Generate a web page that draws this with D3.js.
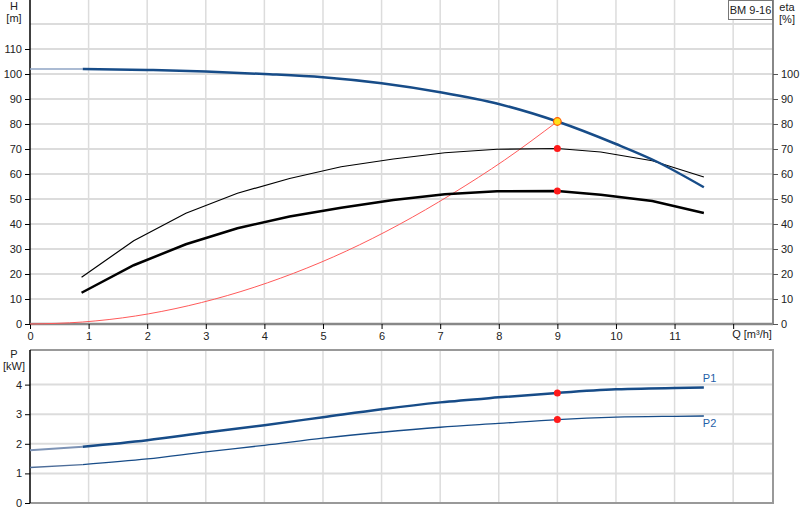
<!DOCTYPE html>
<html><head><meta charset="utf-8">
<script src="https://cdn.jsdelivr.net/npm/d3@7"></script>
<style>body{margin:0;background:#fff}text{font-family:"Liberation Sans",Arial,sans-serif;fill:#222}</style>
</head><body><svg id="c" width="800" height="520"></svg>
<script>
// ---- data ----
const qTicks = [0,1,2,3,4,5,6,7,8,9,10,11];
const hTicks = [0,10,20,30,40,50,60,70,80,90,100,110];
const etaTicks = [0,10,20,30,40,50,60,70,80,90,100];
const pTicks = [0,1,2,3,4];

const qH = [0, 0.9, 2, 3, 4, 5, 6, 7, 8, 9, 10, 10.7, 11.5];
const headH = [102, 102, 101.6, 101, 100, 98.7, 96.3, 92.7, 88, 81, 72, 64.9, 54.7];

const qEta = [0.88, 1.77, 2.66, 3.54, 4.43, 5.31, 6.2, 7.08, 7.97, 9, 9.74, 10.62, 11.5];
const etaPump = [18.7, 33.3, 44.3, 52.3, 58.2, 62.9, 66.0, 68.5, 69.9, 70.2, 68.8, 65.3, 58.8];
const etaTotal = [12.5, 23.5, 31.9, 38.3, 43.0, 46.5, 49.6, 51.9, 53.1, 53.2, 51.7, 49.2, 44.4];

const qSys = [0, 0.9, 1.8, 2.7, 3.6, 4.5, 5.4, 6.3, 7.2, 8.1, 9];
const hSys = [0, 0.8, 3.2, 7.3, 13, 20.3, 29.2, 39.8, 52, 65.6, 81];

const qP = [0, 0.9, 2, 3, 4, 5, 6, 7, 8, 9, 10, 11, 11.5];
const p1 = [1.78, 1.9, 2.12, 2.38, 2.63, 2.9, 3.17, 3.4, 3.57, 3.72, 3.84, 3.89, 3.9];
const p2 = [1.2, 1.3, 1.49, 1.73, 1.95, 2.19, 2.39, 2.56, 2.69, 2.82, 2.9, 2.93, 2.94];

const dutyQ = 9, dutyH = 81, dutyEtaPump = 70.2, dutyEtaTotal = 53.2, dutyP1 = 3.72, dutyP2 = 2.82;

// ---- scales ----
const svg = d3.select("#c");
const x = d3.scaleLinear().domain([0, 12.68]).range([30, 773]);
const yT = d3.scaleLinear().domain([0, 129.6]).range([324, 0]);
const yB = d3.scaleLinear().domain([0, 5.17]).range([503, 350]);

const gridC = "#dcdcdc";
// ---- top panel grid ----
const gT = svg.append("g");
d3.range(1, 13).forEach(q => gT.append("line").attr("x1", x(q)).attr("x2", x(q)).attr("y1", 0).attr("y2", 324).attr("stroke", gridC).attr("stroke-width", 1.5));
d3.range(10, 130, 10).forEach(v => gT.append("line").attr("x1", 30).attr("x2", 773).attr("y1", yT(v)).attr("y2", yT(v)).attr("stroke", gridC).attr("stroke-width", 2));

// ---- bottom panel grid ----
const gB = svg.append("g");
d3.range(1, 13).forEach(q => gB.append("line").attr("x1", x(q)).attr("x2", x(q)).attr("y1", 350).attr("y2", 503).attr("stroke", gridC).attr("stroke-width", 1.5));
[1,2,3,4].forEach(v => gB.append("line").attr("x1", 30).attr("x2", 773).attr("y1", yB(v)).attr("y2", yB(v)).attr("stroke", gridC).attr("stroke-width", 2));
gB.append("path").attr("d", `M30,350H773V503H30`).attr("fill", "none").attr("stroke", "#999").attr("stroke-width", 2);

// ---- axes ----
const fs = "11px";
const axL = svg.append("g").attr("transform", "translate(30,0)")
  .call(d3.axisLeft(yT).tickValues(hTicks).tickSize(5).tickPadding(3).tickFormat(d3.format("d")));
axL.select(".domain").attr("d", "M0,0V324").attr("stroke", "#000").attr("stroke-width", 1.5);
axL.selectAll("text").style("font-size", fs).attr("fill", "#222");

const axR = svg.append("g").attr("transform", "translate(773,0)")
  .call(d3.axisRight(yT).tickValues(etaTicks).tickSize(5).tickPadding(3).tickFormat(d3.format("d")));
axR.select(".domain").attr("d", "M0,0V324").attr("stroke", "#888").attr("stroke-width", 2);
axR.selectAll("line").attr("stroke", "#555");
axR.selectAll("text").style("font-size", fs).attr("fill", "#222");

const axX = svg.append("g").attr("transform", "translate(0,324)")
  .call(d3.axisBottom(x).tickValues(qTicks.concat([12])).tickSize(5).tickPadding(3).tickFormat(d => d === 12 ? "" : d));
axX.select(".domain").attr("d", "M30,0H773").attr("stroke", "#888").attr("stroke-width", 2.5);
axX.selectAll("text").style("font-size", fs).attr("fill", "#222");
svg.append("text").attr("x", x(12) - 1).attr("y", 338).style("font-size", fs).text("Q [m³/h]");

const axP = svg.append("g").attr("transform", "translate(30,0)")
  .call(d3.axisLeft(yB).tickValues(pTicks).tickSize(5).tickPadding(3).tickFormat(d3.format("d")));
axP.select(".domain").attr("d", "M0,350V503").attr("stroke", "#000").attr("stroke-width", 1.5);
axP.selectAll("text").style("font-size", fs).attr("fill", "#222");

// axis titles
svg.append("text").attr("x", 14).attr("y", 10).attr("text-anchor", "middle").style("font-size", fs).text("H");
svg.append("text").attr("x", 14).attr("y", 22).attr("text-anchor", "middle").style("font-size", fs).text("[m]");
svg.append("text").attr("x", 787).attr("y", 11).attr("text-anchor", "middle").style("font-size", fs).text("eta");
svg.append("text").attr("x", 787).attr("y", 23).attr("text-anchor", "middle").style("font-size", fs).text("[%]");
svg.append("text").attr("x", 14).attr("y", 358).attr("text-anchor", "middle").style("font-size", fs).text("P");
svg.append("text").attr("x", 14).attr("y", 370).attr("text-anchor", "middle").style("font-size", fs).text("[kW]");

// title box
svg.append("rect").attr("x", 728.5).attr("y", 0.5).attr("width", 44).attr("height", 19).attr("fill", "#fff").attr("stroke", "#777");
svg.append("text").attr("x", 750.5).attr("y", 14).attr("text-anchor", "middle").style("font-size", fs).text("BM 9-16");

// ---- curves ----
const line = (xs, ys, yS, curve) => d3.line().x((d, i) => x(xs[i])).y((d, i) => yS(ys[i])).curve(curve || d3.curveMonotoneX)(ys);
const blue = "#174c88";

svg.append("path").attr("d", line(qSys, hSys, yT)).attr("fill", "none").attr("stroke", "#ff5a5a").attr("stroke-width", 1);
svg.append("path").attr("d", line(qEta, etaPump, yT, d3.curveLinear)).attr("fill", "none").attr("stroke", "#000").attr("stroke-width", 1.2);
svg.append("path").attr("d", line(qEta, etaTotal, yT, d3.curveLinear)).attr("fill", "none").attr("stroke", "#000").attr("stroke-width", 2.5);
svg.append("path").attr("d", line(qH.slice(0, 2), headH.slice(0, 2), yT)).attr("fill", "none").attr("stroke", "#8fa5c4").attr("stroke-width", 1.5);
svg.append("path").attr("d", line(qH.slice(1), headH.slice(1), yT)).attr("fill", "none").attr("stroke", blue).attr("stroke-width", 2.5);

svg.append("path").attr("d", line(qP.slice(0, 2), p1.slice(0, 2), yB)).attr("fill", "none").attr("stroke", "#7d93b5").attr("stroke-width", 2);
svg.append("path").attr("d", line(qP.slice(1), p1.slice(1), yB)).attr("fill", "none").attr("stroke", blue).attr("stroke-width", 2.5);
svg.append("path").attr("d", line(qP.slice(0, 2), p2.slice(0, 2), yB)).attr("fill", "none").attr("stroke", "#4d6d99").attr("stroke-width", 1.3);
svg.append("path").attr("d", line(qP.slice(1), p2.slice(1), yB)).attr("fill", "none").attr("stroke", blue).attr("stroke-width", 1.3);

svg.append("text").attr("x", x(11.5) - 1).attr("y", 382).style("font-size", fs).style("fill", "#1f5ea8").text("P1");
svg.append("text").attr("x", x(11.5) - 1).attr("y", 427).style("font-size", fs).style("fill", "#1f5ea8").text("P2");

// duty points
svg.append("circle").attr("cx", x(dutyQ)).attr("cy", yT(dutyEtaPump)).attr("r", 3.5).attr("fill", "#ff1a1a");
svg.append("circle").attr("cx", x(dutyQ)).attr("cy", yT(dutyEtaTotal)).attr("r", 3.5).attr("fill", "#ff1a1a");
svg.append("circle").attr("cx", x(dutyQ)).attr("cy", yT(dutyH)).attr("r", 3.8).attr("fill", "#ffe01a").attr("stroke", "#ff5a00").attr("stroke-width", 1.2);
svg.append("circle").attr("cx", x(dutyQ)).attr("cy", yB(dutyP1)).attr("r", 3.5).attr("fill", "#ff1a1a");
svg.append("circle").attr("cx", x(dutyQ)).attr("cy", yB(dutyP2)).attr("r", 3.5).attr("fill", "#ff1a1a");
</script></body></html>
